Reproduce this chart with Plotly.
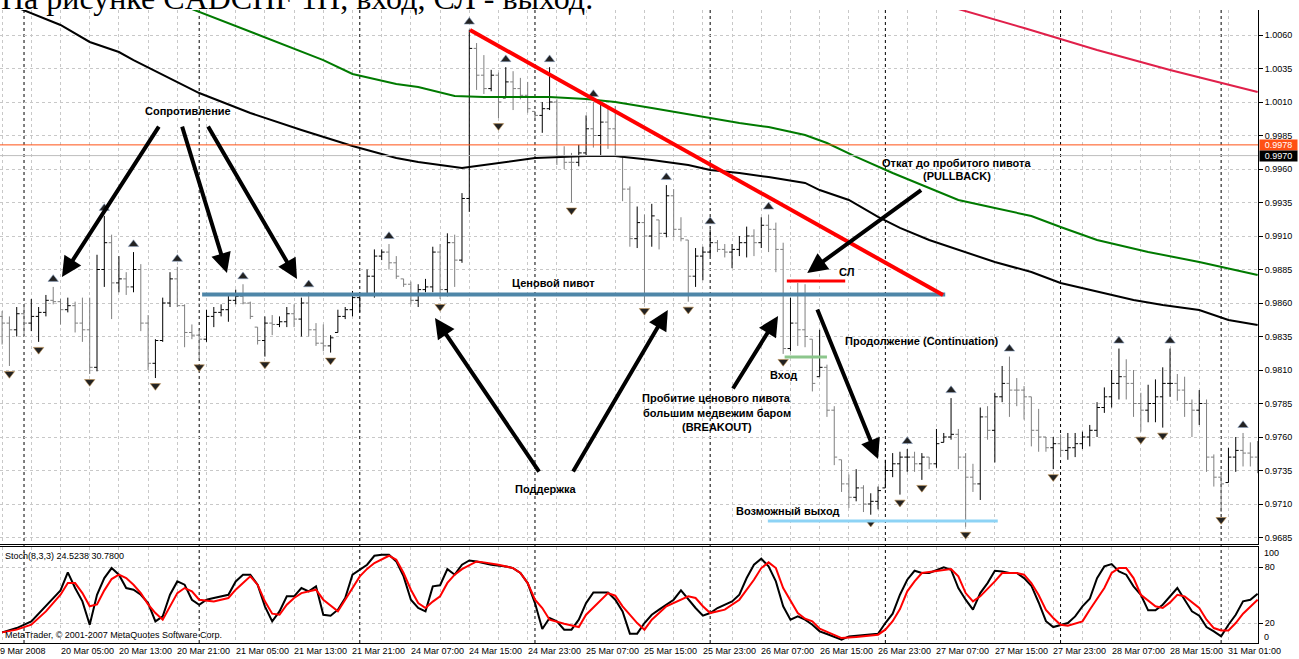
import plotly.graph_objects as go

# ---------------- DATA (prices in pips, 1 pip = 0.0001) ----------------
HIGH_PIPS = [9854, 9850, 9857, 9859, 9863, 9857, 9866, 9872, 9863, 9864,
             9861, 9864, 9864, 9896, 9925, 9911, 9895, 9883, 9898, 9889,
             9851, 9833, 9864, 9883, 9887, 9859, 9844, 9840, 9855, 9857,
             9859, 9866, 9870, 9874, 9861, 9842, 9850, 9851, 9850, 9857,
             9859, 9864, 9868, 9845, 9844, 9836, 9855, 9857, 9869, 9868,
             9885, 9900, 9900, 9904, 9895, 9878, 9876, 9874, 9878, 9902,
             9904, 9912, 9911, 9942, 10064, 10054, 10045, 10034, 10032, 10036,
             10033, 10028, 10025, 10003, 10010, 10036, 10012, 9977, 9972, 9978,
             10000, 10010, 10008, 10006, 10007, 9969, 9947, 9932, 9926, 9934,
             9922, 9948, 9945, 9924, 9907, 9901, 9902, 9915, 9907, 9904,
             9904, 9910, 9917, 9915, 9924, 9926, 9920, 9905, 9864, 9875,
             9874, 9833, 9840, 9814, 9783, 9743, 9732, 9736, 9724, 9718,
             9723, 9743, 9748, 9749, 9751, 9749, 9748, 9745, 9766, 9763,
             9789, 9766, 9748, 9740, 9782, 9783, 9793, 9813, 9820, 9804,
             9798, 9790, 9781, 9760, 9760, 9762, 9763, 9763, 9764, 9769,
             9786, 9797, 9810, 9826, 9818, 9810, 9793, 9799, 9803, 9812,
             9826, 9807, 9805, 9788, 9795, 9788, 9747, 9734, 9752, 9760,
             9763, 9756, 9757]
LOW_PIPS = [9829, 9813, 9835, 9835, 9839, 9831, 9850, 9859, 9844, 9853,
            9838, 9831, 9807, 9809, 9872, 9848, 9868, 9866, 9868, 9839,
            9810, 9804, 9831, 9857, 9857, 9827, 9833, 9818, 9831, 9842,
            9850, 9846, 9859, 9859, 9848, 9829, 9820, 9836, 9842, 9842,
            9842, 9835, 9835, 9828, 9824, 9823, 9838, 9848, 9850, 9853,
            9866, 9864, 9892, 9885, 9878, 9872, 9859, 9857, 9868, 9868,
            9863, 9865, 9872, 9890, 9928, 10019, 10016, 10018, 9998, 10013,
            10004, 10012, 10002, 9997, 9987, 10004, 9963, 9960, 9935, 9962,
            9969, 9976, 9970, 9975, 9969, 9936, 9902, 9901, 9860, 9902,
            9900, 9909, 9909, 9906, 9861, 9872, 9877, 9895, 9898, 9894,
            9886, 9895, 9894, 9895, 9901, 9898, 9883, 9822, 9824, 9828,
            9827, 9794, 9805, 9775, 9739, 9719, 9707, 9712, 9704, 9702,
            9706, 9722, 9730, 9717, 9734, 9734, 9728, 9736, 9737, 9756,
            9758, 9736, 9693, 9719, 9713, 9758, 9741, 9786, 9775, 9783,
            9773, 9753, 9749, 9749, 9736, 9745, 9743, 9745, 9751, 9753,
            9760, 9778, 9782, 9788, 9788, 9775, 9764, 9771, 9771, 9767,
            9790, 9787, 9775, 9760, 9769, 9734, 9723, 9704, 9726, 9734,
            9738, 9738, 9733]
OPEN_PIPS = [9850, 9845, 9840, 9852, 9845, 9850, 9853, 9862, 9861, 9855,
             9858, 9845, 9840, 9812, 9885, 9905, 9875, 9878, 9872, 9885,
             9845, 9815, 9832, 9860, 9878, 9858, 9838, 9836, 9833, 9850,
             9853, 9855, 9862, 9865, 9860, 9842, 9832, 9845, 9844, 9846,
             9852, 9848, 9860, 9840, 9830, 9828, 9838, 9850, 9855, 9864,
             9867, 9880, 9895, 9898, 9890, 9878, 9874, 9862, 9870, 9872,
             9898, 9870, 9905, 9892, 9938, 10050, 10030, 10020, 10030, 10013,
             10025, 10020, 10015, 10003, 10000, 10005, 10010, 9970, 9965, 9965,
             9972, 9990, 9985, 9995, 9990, 9969, 9945, 9908, 9920, 9910,
             9922, 9912, 9940, 9915, 9907, 9880, 9895, 9898, 9905, 9900,
             9898, 9900, 9905, 9910, 9905, 9918, 9915, 9900, 9826, 9845,
             9840, 9833, 9805, 9812, 9780, 9743, 9725, 9715, 9722, 9710,
             9712, 9722, 9735, 9740, 9745, 9745, 9740, 9745, 9740, 9756,
             9760, 9762, 9745, 9730, 9725, 9775, 9765, 9790, 9800, 9795,
             9795, 9790, 9765, 9760, 9752, 9755, 9750, 9752, 9755, 9760,
             9765, 9782, 9790, 9800, 9805, 9800, 9785, 9780, 9785, 9790,
             9800, 9800, 9795, 9785, 9780, 9785, 9745, 9730, 9726, 9745,
             9750, 9748, 9745]
CLOSE_PIPS = [9845, 9840, 9852, 9845, 9850, 9853, 9862, 9861, 9855, 9858,
              9845, 9840, 9812, 9885, 9905, 9875, 9878, 9872, 9885, 9845,
              9815, 9832, 9860, 9878, 9858, 9838, 9836, 9833, 9850, 9853,
              9855, 9862, 9865, 9860, 9850, 9832, 9845, 9844, 9846, 9852,
              9848, 9860, 9840, 9830, 9828, 9834, 9850, 9855, 9864, 9867,
              9880, 9895, 9898, 9890, 9880, 9874, 9862, 9870, 9872, 9898,
              9870, 9905, 9892, 9938, 10050, 10030, 10020, 10030, 10010, 10025,
              10020, 10015, 10005, 10000, 10005, 10010, 9970, 9965, 9965, 9972,
              9990, 9985, 9995, 9990, 9970, 9945, 9908, 9920, 9910, 9925,
              9912, 9940, 9915, 9908, 9880, 9895, 9898, 9905, 9900, 9898,
              9900, 9905, 9910, 9905, 9918, 9915, 9900, 9826, 9845, 9840,
              9835, 9800, 9812, 9780, 9745, 9725, 9715, 9722, 9710, 9712,
              9720, 9735, 9740, 9745, 9745, 9740, 9745, 9740, 9755, 9760,
              9762, 9745, 9730, 9725, 9775, 9765, 9790, 9800, 9795, 9795,
              9790, 9765, 9760, 9752, 9755, 9750, 9752, 9755, 9760, 9765,
              9782, 9790, 9800, 9805, 9800, 9785, 9780, 9785, 9790, 9800,
              9800, 9795, 9785, 9780, 9785, 9745, 9730, 9725, 9745, 9750,
              9748, 9745, 9740]

FRACTAL_UP_BARS = [7, 14, 18, 24, 33, 42, 53, 64, 69, 75, 81, 91, 97, 105,
                   124, 130, 138, 153, 160, 170]
FRACTAL_DOWN_BARS = [1, 5, 12, 21, 27, 36, 45, 60, 68, 78, 88, 94, 107, 119,
                     123, 126, 132, 144, 156, 159, 167]

# moving averages read at sample bars
MA_BLACK_BARS = [0, 4, 8, 12, 16, 18, 23, 27, 34, 41, 48, 54, 57, 63, 64, 69, 73,
                 80, 84, 89, 94, 97, 101, 105, 110, 112, 116, 120, 123, 127, 131,
                 136, 141, 145, 155, 159, 164, 168, 172]
MA_BLACK = [1.00850, 1.00764, 1.00675, 1.00548, 1.00473, 1.00413, 1.00279, 1.00167,
            1.00018, 0.99891, 0.99772, 0.99682, 0.99652, 0.99607, 0.99615, 0.99652,
            0.99682, 0.99697, 0.99697, 0.99667, 0.99630, 0.99593, 0.99570, 0.99540,
            0.99496, 0.99443, 0.99369, 0.99242, 0.99160, 0.99070, 0.98996, 0.98906,
            0.98831, 0.98749, 0.98622, 0.98585, 0.98548, 0.98473, 0.98436]
MA_GREEN_BARS = [24, 27, 31, 36, 44, 48, 54, 57, 62, 66, 75, 80, 84, 89, 96, 101,
                 105, 110, 113, 117, 122, 127, 131, 136, 141, 145, 150, 157, 164, 172]
MA_GREEN = [1.00836, 1.00772, 1.00690, 1.00578, 1.00413, 1.00309, 1.00234, 1.00212,
            1.00145, 1.00137, 1.00137, 1.00122, 1.00100, 1.00055, 0.99988, 0.99943,
            0.99913, 0.99854, 0.99794, 0.99690, 0.99570, 0.99458, 0.99369, 0.99309,
            0.99249, 0.99167, 0.99070, 0.98981, 0.98906, 0.98809]
MA_CRIMSON_BARS = [131, 140, 150, 160, 172]
MA_CRIMSON = [1.00794, 1.00652, 1.00488, 1.00339, 1.00175]

STOCH_K_BARS = [0, 2, 4, 6, 8, 9, 10, 11, 12, 13, 14, 15, 16, 17, 18, 19, 20, 21, 22,
                23, 24, 25, 26, 27, 28, 29, 31, 32, 33, 34, 35, 36, 37, 38, 39, 40, 41,
                42, 43, 44, 45, 46, 47, 48, 49, 50, 51, 52, 53, 54, 55, 56, 57, 58, 59,
                60, 61, 62, 63, 64, 65, 67, 69, 70, 71, 72, 73, 74, 75, 76, 77, 78, 79,
                80, 81, 83, 84, 85, 86, 87, 88, 89, 90, 92, 93, 94, 95, 96, 97, 98, 100,
                101, 102, 103, 104, 105, 106, 107, 108, 109, 110, 111, 112, 113, 115,
                116, 118, 120, 121, 122, 123, 124, 125, 126, 127, 128, 129, 130, 131,
                132, 133, 134, 135, 136, 137, 138, 139, 140, 141, 142, 143, 144, 145,
                146, 147, 148, 149, 150, 151, 152, 153, 154, 155, 156, 157, 158, 159,
                160, 161, 162, 163, 164, 165, 166, 167, 168, 169, 170, 171, 172]
STOCH_K = [10.0, 14.6, 21.8, 37.9, 55.0, 74.3, 57.5, 43.2, 18.2, 50.3, 68.2, 78.9, 71.8,
           57.5, 55.7, 50.3, 41.4, 21.8, 27.1, 50.3, 64.6, 61.1, 45.0, 39.6, 45.0, 46.8,
           50.3, 64.6, 71.8, 71.8, 61.1, 37.9, 21.8, 32.5, 48.6, 48.6, 57.5, 53.9, 59.3,
           28.9, 27.9, 34.3, 46.8, 71.8, 77.1, 82.5, 92.1, 93.2, 93.2, 86.0, 70.0, 45.0,
           36.1, 32.5, 59.3, 60.5, 77.8, 71.8, 82.5, 87.1, 86.0, 82.5, 80.7, 78.9, 73.6,
           62.8, 41.4, 13.6, 25.4, 21.8, 12.9, 12.9, 23.6, 41.4, 52.8, 52.8, 45.0, 32.5,
           8.6, 8.6, 20.0, 28.9, 34.3, 45.0, 55.0, 45.0, 36.1, 27.9, 30.7, 36.1, 43.2,
           50.3, 68.2, 82.5, 88.9, 80.7, 64.6, 37.9, 23.6, 27.1, 23.6, 18.2, 11.1, 8.2,
           2.2, 5.7, 7.5, 8.5, 20.0, 30.0, 50.3, 66.4, 76.0, 73.6, 73.6, 76.4, 79.6, 77.1,
           57.5, 45.0, 34.3, 52.1, 62.8, 76.0, 75.3, 73.6, 73.6, 68.2, 60.0, 42.0, 22.0,
           15.7, 18.2, 20.0, 27.1, 37.9, 46.0, 68.0, 80.7, 83.2, 75.3, 71.8, 59.3, 50.3,
           33.6, 33.6, 39.6, 48.6, 57.5, 45.0, 32.5, 27.9, 15.7, 11.1, 5.7, 18.2, 28.9,
           43.2, 45.0, 51.4]
STOCH_D_BARS = [0, 2, 4, 6, 8, 9, 10, 11, 12, 13, 14, 15, 16, 17, 18, 19, 20, 21, 22,
                23, 24, 25, 26, 27, 29, 31, 32, 33, 34, 35, 36, 37, 38, 39, 40, 41, 42,
                43, 44, 46, 47, 48, 49, 50, 51, 53, 54, 55, 56, 57, 58, 59, 60, 61, 62,
                63, 65, 66, 68, 70, 71, 72, 73, 74, 75, 77, 79, 80, 82, 83, 84, 85, 87,
                88, 89, 91, 94, 95, 96, 97, 99, 101, 103, 104, 105, 106, 107, 109, 110,
                111, 112, 114, 115, 117, 119, 120, 121, 122, 123, 124, 125, 126, 127,
                129, 130, 131, 132, 133, 134, 136, 137, 139, 140, 141, 142, 143, 144,
                145, 146, 148, 149, 151, 152, 153, 154, 155, 156, 158, 159, 160, 161,
                162, 164, 165, 166, 167, 168, 169, 170, 172]
STOCH_D = [10.0, 12.9, 18.2, 32.5, 50.3, 62.8, 62.8, 52.1, 37.9, 40.0, 55.0, 67.1, 71.8,
           68.2, 61.0, 52.0, 40.0, 30.7, 23.6, 37.9, 52.1, 57.5, 54.0, 45.0, 43.2, 46.8,
           55.7, 63.0, 70.0, 61.1, 43.2, 30.0, 28.9, 39.6, 46.8, 52.1, 53.9, 55.7, 45.0,
           32.5, 45.0, 58.0, 70.0, 78.0, 84.3, 92.1, 87.8, 73.6, 55.7, 41.4, 36.1, 43.0,
           48.6, 63.0, 71.8, 77.8, 86.0, 85.0, 82.5, 78.9, 73.6, 62.8, 45.0, 36.1, 23.6,
           19.3, 15.7, 28.9, 45.0, 52.1, 49.3, 37.9, 20.0, 12.9, 23.6, 37.9, 48.6, 46.8,
           38.0, 30.7, 34.3, 45.0, 66.4, 78.9, 85.0, 78.9, 57.5, 30.7, 24.6, 21.8, 14.0,
           7.5, 3.9, 5.0, 6.4, 7.5, 12.9, 22.0, 35.0, 54.0, 64.6, 73.6, 74.6, 76.4, 77.8,
           70.0, 52.1, 43.2, 48.6, 64.6, 73.6, 73.6, 71.8, 62.8, 50.0, 34.0, 25.4, 18.2,
           17.1, 21.8, 34.3, 57.5, 73.6, 78.9, 78.9, 68.2, 50.3, 37.9, 36.1, 42.1, 50.3,
           48.6, 36.1, 23.6, 14.6, 12.1, 12.1, 20.0, 30.0, 45.0]

PRICE_TICKS = [0.9685, 0.9710, 0.9735, 0.9760, 0.9785, 0.9810, 0.9835, 0.9860,
               0.9885, 0.9910, 0.9935, 0.9960, 0.9985, 1.0010, 1.0035, 1.0060]
ASK_PRICE = 0.9978
BID_PRICE = 0.9970

TIME_LABEL_BARS = [8, 16, 24, 32, 40, 48, 56, 64, 72, 80, 88, 96, 104, 112, 120, 128,
                   136, 144, 152, 160, 168]
TIME_LABELS = ["20 Mar 05:00", "20 Mar 13:00", "20 Mar 21:00", "21 Mar 05:00",
               "21 Mar 13:00", "21 Mar 21:00", "24 Mar 07:00", "24 Mar 15:00",
               "24 Mar 23:00", "25 Mar 07:00", "25 Mar 15:00", "25 Mar 23:00",
               "26 Mar 07:00", "26 Mar 15:00", "26 Mar 23:00", "27 Mar 07:00",
               "27 Mar 15:00", "27 Mar 23:00", "28 Mar 07:00", "28 Mar 15:00",
               "31 Mar 01:00"]
FIRST_LABEL = "9 Mar 2008"
DAY_SEPARATOR_BARS = [3, 27, 49, 73, 97, 121, 145, 167]
GRID_BARS = list(range(0, 173, 4))

# ---------------- FIGURE ----------------
bars = list(range(len(HIGH_PIPS)))
high = [v / 10000 for v in HIGH_PIPS]
low = [v / 10000 for v in LOW_PIPS]
opn = [v / 10000 for v in OPEN_PIPS]
close = [v / 10000 for v in CLOSE_PIPS]

FONT = "Liberation Sans"
fig = go.Figure()

fig.add_trace(go.Scatter(x=MA_BLACK_BARS, y=MA_BLACK, mode="lines",
                         line=dict(color="black", width=2), xaxis="x", yaxis="y"))
fig.add_trace(go.Scatter(x=MA_GREEN_BARS, y=MA_GREEN, mode="lines",
                         line=dict(color="#007A00", width=2), xaxis="x", yaxis="y"))
fig.add_trace(go.Scatter(x=MA_CRIMSON_BARS, y=MA_CRIMSON, mode="lines",
                         line=dict(color="#E0204A", width=2), xaxis="x", yaxis="y"))

fig.add_trace(go.Ohlc(x=bars, open=opn, high=high, low=low, close=close,
                      xaxis="x", yaxis="y", tickwidth=0.4,
                      increasing=dict(line=dict(color="black", width=1)),
                      decreasing=dict(line=dict(color="#7F7F7F", width=1))))

FR_OFF = 0.00058
fig.add_trace(go.Scatter(x=FRACTAL_UP_BARS, y=[high[i] + FR_OFF for i in FRACTAL_UP_BARS],
                         mode="markers", xaxis="x", yaxis="y",
                         marker=dict(symbol="triangle-up", size=9, color="#222222",
                                     line=dict(color="#8aa0c0", width=0.6))))
fig.add_trace(go.Scatter(x=FRACTAL_DOWN_BARS, y=[low[i] - FR_OFF for i in FRACTAL_DOWN_BARS],
                         mode="markers", xaxis="x", yaxis="y",
                         marker=dict(symbol="triangle-down", size=9, color="#222222",
                                     line=dict(color="#c09050", width=0.6))))

fig.add_trace(go.Scatter(x=STOCH_K_BARS, y=STOCH_K, mode="lines",
                         line=dict(color="black", width=2), xaxis="x2", yaxis="y2"))
fig.add_trace(go.Scatter(x=STOCH_D_BARS, y=STOCH_D, mode="lines",
                         line=dict(color="#FF0000", width=2), xaxis="x2", yaxis="y2"))

# drawn objects (bar index, price)
shapes = []
for b in DAY_SEPARATOR_BARS:
    shapes.append(dict(type="line", xref="x", yref="paper", x0=b, x1=b, y0=0, y1=1,
                       line=dict(color="black", width=1, dash="3px,3px"), layer="below"))
shapes.append(dict(type="line", xref="paper", yref="y", x0=0, x1=1, y0=BID_PRICE, y1=BID_PRICE,
                   line=dict(color="#BDBDBD", width=1)))
shapes.append(dict(type="line", xref="paper", yref="y", x0=0, x1=1, y0=ASK_PRICE, y1=ASK_PRICE,
                   line=dict(color="#FF5014", width=1)))

def seg(x0, y0, x1, y1, color, width):
    shapes.append(dict(type="line", xref="x", yref="y", x0=x0, y0=y0, x1=x1, y1=y1,
                       line=dict(color=color, width=width), layer="above"))

seg(27.4, 0.98663, 129.2, 0.98663, "#4E86A8", 4)      # price pivot
seg(64.1, 1.00637, 128.9, 0.98660, "#FF0000", 4)      # trend line
seg(107.5, 0.98764, 115.5, 0.98764, "#FF0000", 3)     # SL
seg(107.2, 0.98197, 113.0, 0.98197, "#8CC68C", 3)     # entry
seg(104.9, 0.96973, 136.4, 0.96973, "#8DD3F5", 3)     # exit

ann = []
def arrow(tx, ty, hx, hy):
    ann.append(dict(x=hx, y=hy, ax=tx, ay=ty, xref="x", yref="y", axref="x", ayref="y",
                    text="", showarrow=True, arrowhead=2, arrowsize=1, arrowwidth=4,
                    arrowcolor="black"))

arrow(21.6, 0.99928, 8.2, 0.98794)
arrow(24.6, 0.99928, 30.8, 0.98824)
arrow(28.1, 0.99928, 40.4, 0.98779)
arrow(73.7, 0.97331, 59.3, 0.98488)
arrow(78.1, 0.97331, 91.2, 0.98548)
arrow(100.0, 0.97951, 106.3, 0.98503)
arrow(126.1, 0.99451, 110.3, 0.98824)
arrow(111.6, 0.98563, 120.0, 0.97436)

def label(x, y, t):
    ann.append(dict(x=x, y=y, xref="x", yref="y", text="<b>" + t + "</b>", showarrow=False,
                    font=dict(family=FONT, size=11, color="black"), xanchor="center",
                    yanchor="middle"))

label(25.5, 1.00033, "Сопротивление")
label(75.6, 0.98749, "Ценовой пивот")
label(74.4, 0.97212, "Поддержка")
label(130.8, 0.99645, "Откат до пробитого пивота")
label(130.8, 0.99548, "(PULLBACK)")
label(115.7, 0.98831, "СЛ")
label(126.0, 0.98316, "Продолжение (Continuation)")
label(107.1, 0.98063, "Вход")
label(97.9, 0.97891, "Пробитие ценового пивота")
label(97.9, 0.97779, "большим медвежим баром")
label(97.9, 0.97675, "(BREAKOUT)")
label(107.7, 0.97048, "Возможный выход")

# price boxes on the axis
ann.append(dict(x=1, y=ASK_PRICE, xref="paper", yref="y", xanchor="left", yanchor="middle",
                text="0.9978", showarrow=False, bgcolor="#FF5014", width=37, height=10,
                font=dict(family=FONT, size=9, color="white"), borderpad=0, xshift=1))
ann.append(dict(x=1, y=BID_PRICE, xref="paper", yref="y", xanchor="left", yanchor="middle",
                text="0.9970", showarrow=False, bgcolor="black", width=37, height=10,
                font=dict(family=FONT, size=9, color="white"), borderpad=0, xshift=1))

# stochastic texts
ann.append(dict(x=1, y=95, xref="paper", yref="y2", xanchor="left", yanchor="middle",
                text="100", showarrow=False, xshift=4, font=dict(family=FONT, size=9, color="black")))
ann.append(dict(x=1, y=5, xref="paper", yref="y2", xanchor="left", yanchor="middle",
                text="0", showarrow=False, xshift=4, font=dict(family=FONT, size=9, color="black")))
ann.append(dict(x=0.0, y=0.137, xref="paper", yref="paper", xanchor="left", yanchor="middle",
                text="Stoch(8,3,3) 24.5238 30.7800", showarrow=False, xshift=3,
                font=dict(family=FONT, size=9, color="black")))
ann.append(dict(x=0.0, y=0.013, xref="paper", yref="paper", xanchor="left", yanchor="middle",
                text="MetaTrader, © 2001-2007 MetaQuotes Software Corp.", showarrow=False, xshift=3,
                font=dict(family=FONT, size=9, color="black")))

# time labels
ann.append(dict(x=0, y=0, xref="paper", yref="paper", xanchor="left", yanchor="top",
                text=FIRST_LABEL, showarrow=False, yshift=-1, xshift=-2,
                font=dict(family=FONT, size=9, color="black")))
for b, t in zip(TIME_LABEL_BARS, TIME_LABELS):
    ann.append(dict(x=b, y=0, xref="x2", yref="paper", xanchor="left", yanchor="top",
                    text=t, showarrow=False, yshift=-1, xshift=-2,
                    font=dict(family=FONT, size=9, color="black")))

# title (cut by top edge)
ann.append(dict(x=0, y=1, xref="paper", yref="paper", xanchor="left", yanchor="bottom",
                yshift=-8, xshift=-1, text="На рисунке CADCHF 1H, вход, СЛ - выход.",
                showarrow=False,
                font=dict(family="Liberation Serif", size=32, color="black")))

XR = [-0.29, 172.05]
grid = dict(showgrid=True, gridcolor="#C8C8C8", griddash="3px,3px", gridwidth=1)
fig.update_layout(
    width=1299, height=659,
    margin=dict(l=0, r=41, t=10, b=16),
    paper_bgcolor="white", plot_bgcolor="white",
    showlegend=False, hovermode=False,
    shapes=shapes, annotations=ann,
    xaxis=dict(domain=[0, 1], anchor="y", range=XR, tickvals=GRID_BARS,
               showticklabels=False, ticks="", zeroline=False,
               showline=True, linecolor="black", linewidth=1,
               rangeslider=dict(visible=False), **grid),
    yaxis=dict(domain=[0.1564, 1], anchor="x", side="right", range=[0.968015, 1.007866],
               tickvals=PRICE_TICKS, tickformat=".4f", ticks="outside", ticklen=4,
               tickcolor="black", showline=True, linecolor="black", linewidth=1,
               zeroline=False, tickfont=dict(family=FONT, size=9, color="black"), **grid),
    xaxis2=dict(domain=[0, 1], anchor="y2", range=XR, matches="x", tickvals=GRID_BARS,
                showticklabels=False, ticks="", zeroline=False,
                showline=True, linecolor="black", linewidth=1, mirror=True,
                rangeslider=dict(visible=False), **grid),
    yaxis2=dict(domain=[0, 0.1517], anchor="x2", side="right", range=[-1.4, 101.5],
                tickvals=[20, 80], ticks="outside", ticklen=4, tickcolor="black",
                showline=True, linecolor="black", linewidth=1, zeroline=False,
                tickfont=dict(family=FONT, size=9, color="black"), **grid),
)

fig.write_html("out.html",
               config={"displayModeBar": False, "staticPlot": True},
               post_script="document.body.style.margin='0px';"
                           "document.body.style.padding='0px';"
                           "document.body.style.overflow='hidden';")
